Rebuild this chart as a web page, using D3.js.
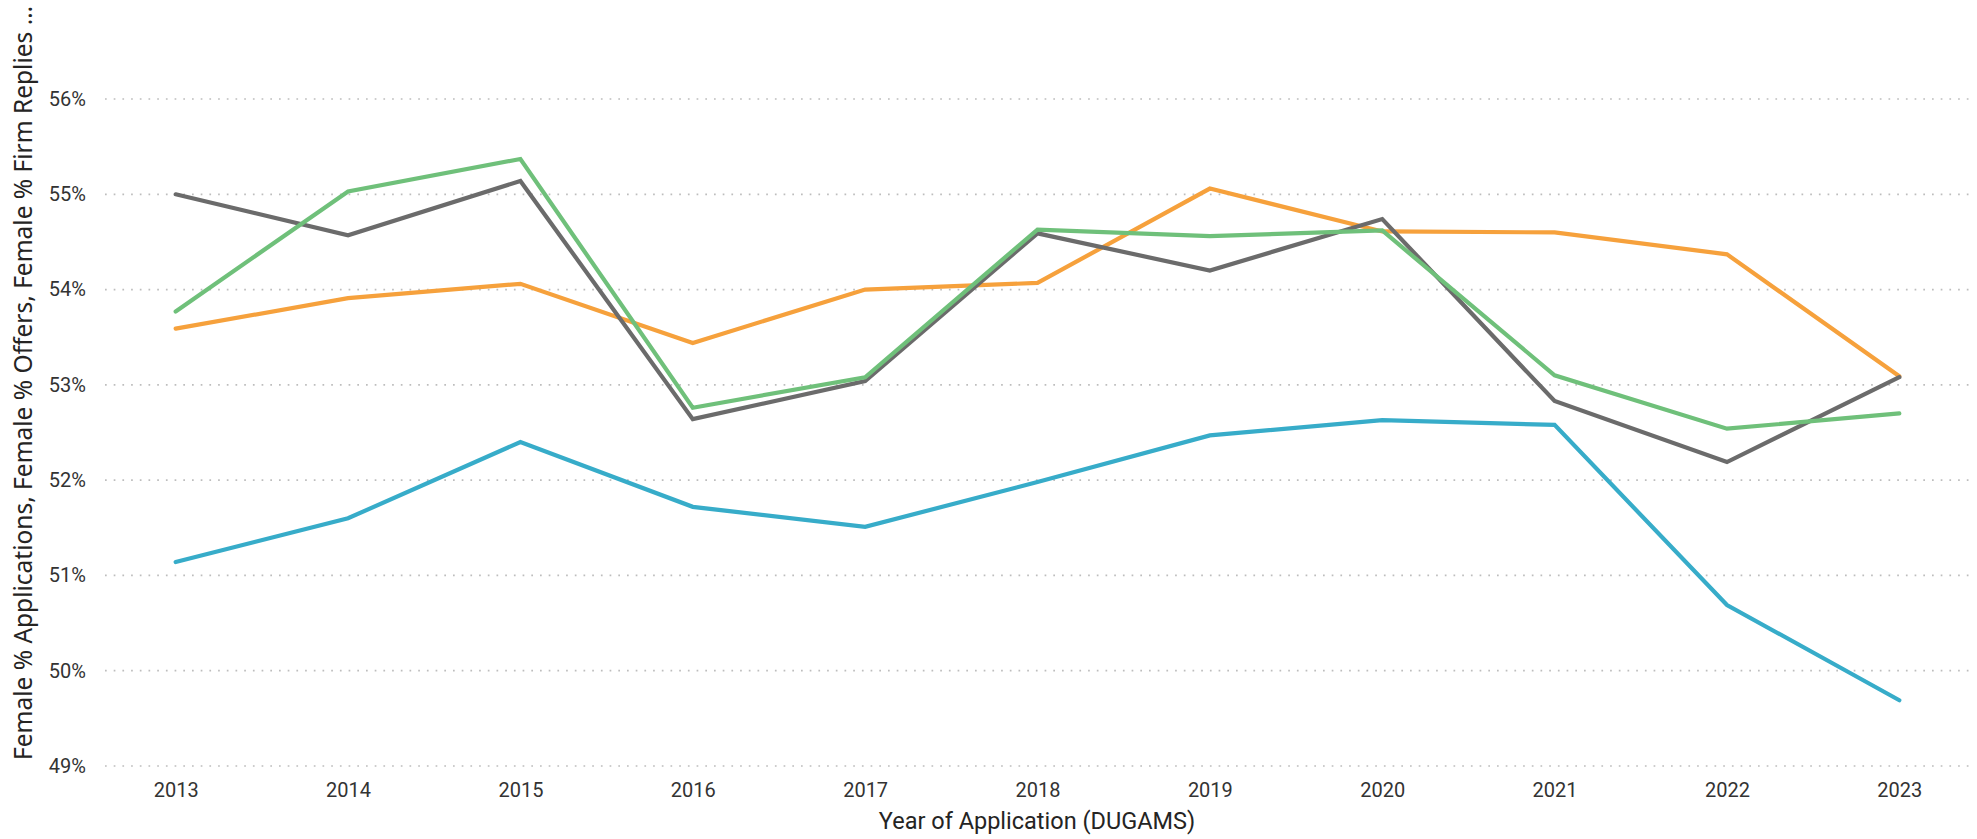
<!DOCTYPE html>
<html>
<head>
<meta charset="utf-8">
<script src="https://cdn.jsdelivr.net/npm/d3@7"></script>
<style>
  html, body { margin: 0; padding: 0; background: #fff; }
  svg { display: block; }
</style>
</head>
<body>
<svg id="chart"></svg>
<script>
const years = ["2013", "2014", "2015", "2016", "2017", "2018", "2019", "2020", "2021", "2022", "2023"];

// values in percent
const applications = [51.14, 51.60, 52.40, 51.72, 51.51, 51.98, 52.47, 52.63, 52.58, 50.69, 49.69];
const offers       = [53.59, 53.91, 54.06, 53.44, 54.00, 54.07, 55.06, 54.61, 54.60, 54.37, 53.09];
const firmReplies  = [55.00, 54.57, 55.14, 52.64, 53.04, 54.59, 54.20, 54.74, 52.83, 52.19, 53.08];
const acceptances  = [53.77, 55.03, 55.37, 52.76, 53.08, 54.63, 54.56, 54.62, 53.10, 52.54, 52.70];

const yTicks = [49, 50, 51, 52, 53, 54, 55, 56];

const seriesList = [
  { name: "Female % Applications", values: applications, color: "#37acc9" },
  { name: "Female % Offers", values: offers, color: "#f6a13c" },
  { name: "Female % Firm Replies", values: firmReplies, color: "#6b6b6b" },
  { name: "Female % Acceptances", values: acceptances, color: "#6fc07a" },
];

const width = 1977;
const height = 839;
const margin = { top: 99, right: 7, bottom: 73, left: 105 };
const tickFont = "Roboto, 'DejaVu Sans Condensed', sans-serif";

const svg = d3.select("#chart")
  .attr("width", width)
  .attr("height", height);

const x = d3.scalePoint()
  .domain(years)
  .range([margin.left, width - margin.right])
  .padding(0.41);

const y = d3.scaleLinear()
  .domain([49, 56])
  .range([height - margin.bottom, margin.top]);

// dotted gridlines
svg.append("g")
  .selectAll("line")
  .data(yTicks)
  .join("line")
  .attr("x1", margin.left)
  .attr("x2", width - margin.right)
  .attr("y1", d => y(d))
  .attr("y2", d => y(d))
  .attr("stroke", "#bdbdbd")
  .attr("stroke-width", 1.7)
  .attr("stroke-dasharray", "1.7,7");

// Y Axis
svg.append("g")
  .attr("transform", `translate(${margin.left - 16},0)`)
  .call(d3.axisLeft(y).tickValues(yTicks).tickFormat(d => d + "%").tickSize(0))
  .call(g => g.select(".domain").remove())
  .call(g => g.selectAll("text")
    .attr("fill", "#333")
    .style("font-family", tickFont)
    .style("font-size", "20px"));

// X Axis
svg.append("g")
  .attr("transform", `translate(0,${height - margin.bottom + 14})`)
  .call(d3.axisBottom(x).tickSize(0))
  .call(g => g.select(".domain").remove())
  .call(g => g.selectAll("text")
    .attr("fill", "#333")
    .style("font-family", tickFont)
    .style("font-size", "20px"));

// lines
const line = d3.line()
  .x((d, i) => x(years[i]))
  .y(d => y(d));

svg.append("g")
  .selectAll("path")
  .data(seriesList)
  .join("path")
  .attr("d", d => line(d.values))
  .attr("fill", "none")
  .attr("stroke", d => d.color)
  .attr("stroke-width", 4.2)
  .attr("stroke-linejoin", "miter")
  .attr("stroke-linecap", "round");

// Axis labels
svg.append("text")
  .attr("x", 1037)
  .attr("y", 829)
  .style("text-anchor", "middle")
  .style("font-family", tickFont)
  .style("font-size", "23.5px")
  .attr("fill", "#252423")
  .text("Year of Application (DUGAMS)");

svg.append("text")
  .attr("transform", "rotate(-90)")
  .attr("x", -383)
  .attr("y", 32)
  .style("text-anchor", "middle")
  .style("font-family", "'Segoe UI', 'Noto Sans', sans-serif")
  .style("font-size", "24.5px")
  .attr("fill", "#252423")
  .text("Female % Applications, Female % Offers, Female % Firm Replies …");
</script>
</body>
</html>
